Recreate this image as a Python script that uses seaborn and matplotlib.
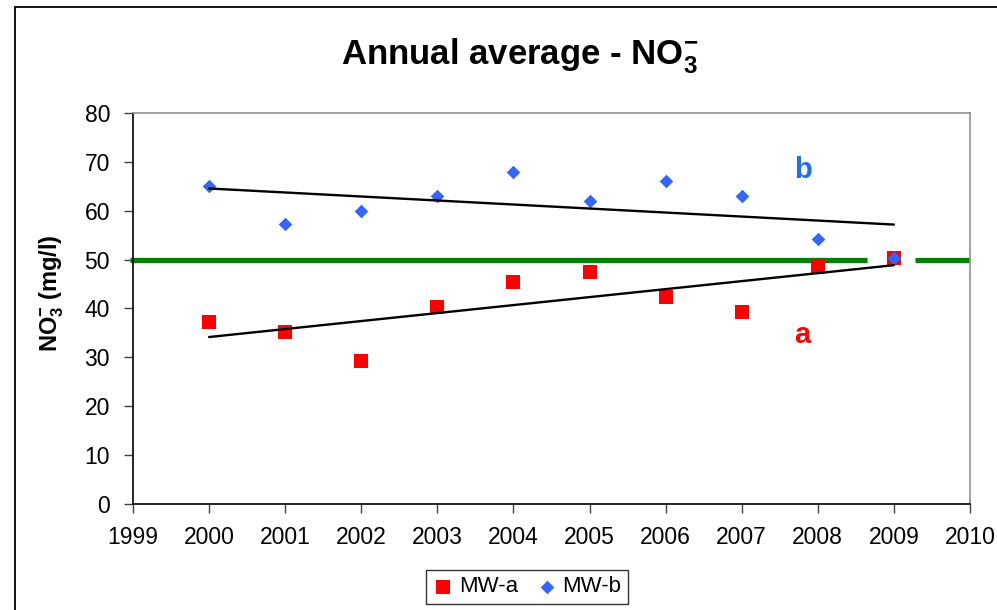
import numpy as np
import pandas as pd
import matplotlib
matplotlib.use("Agg")
import matplotlib.pyplot as plt
from matplotlib.patches import Rectangle
import seaborn as sns

# Annual average nitrate concentrations at two monitoring wells
years = [2000, 2001, 2002, 2003, 2004, 2005, 2006, 2007, 2008, 2009]
mw_a = [37.2, 35.2, 29.2, 40.3, 45.4, 47.4, 42.3, 39.3, 48.5, 50.3]
mw_b = [65.0, 57.3, 59.9, 63.0, 67.9, 62.0, 66.0, 63.0, 54.2, 50.3]
series_names = ["MW-a", "MW-b"]
limit_value = 50
x_ticks = list(range(1999, 2011))
y_ticks = list(range(0, 81, 10))

sns.set_theme(style="white")
plt.rcParams["font.family"] = ["Liberation Sans", "DejaVu Sans"]
plt.rcParams["mathtext.fontset"] = "custom"
plt.rcParams["mathtext.rm"] = "Liberation Sans"
plt.rcParams["mathtext.bf"] = "Liberation Sans:bold"
plt.rcParams["mathtext.default"] = "regular"
for key in ["text.color", "axes.labelcolor", "xtick.color", "ytick.color"]:
    plt.rcParams[key] = "black"

df = pd.DataFrame({
    "year": years * 2,
    "value": mw_a + mw_b,
    "well": [series_names[0]] * len(years) + [series_names[1]] * len(years),
})

fig = plt.figure(figsize=(9.97, 6.10), dpi=100)
ax = fig.add_axes([0.1334, 0.1738, 0.8395, 0.641])

# outer chart border
fig.patches.append(Rectangle((15 / 997, -0.1), 1.2, 1 - 7 / 610 + 0.1,
                             transform=fig.transFigure, fill=False,
                             edgecolor="black", linewidth=1.3, zorder=0))

# drinking-water limit, broken around the last sample
ax.plot([1998.96, 2008.65], [limit_value, limit_value], color="#008000",
        linewidth=3.8, solid_capstyle="butt", zorder=2, clip_on=False)
ax.plot([2009.28, 2010], [limit_value, limit_value], color="#008000",
        linewidth=3.8, solid_capstyle="butt", zorder=2)

palette = {"MW-a": "#FF0000", "MW-b": "#3366FF"}
markers = {"MW-a": "s", "MW-b": "D"}
sizes = {"MW-a": 115, "MW-b": 48}

for name in series_names:
    sub = df[df["well"] == name]
    sns.scatterplot(data=sub, x="year", y="value", color=palette[name],
                    marker=markers[name], s=sizes[name], linewidth=0,
                    ax=ax, label=name, zorder=3)

# linear trends
for name in series_names:
    sub = df[df["well"] == name]
    sns.regplot(data=sub, x="year", y="value", scatter=False, ci=None,
                truncate=True, color="black",
                line_kws={"linewidth": 1.7, "zorder": 4}, ax=ax)

ax.text(2007.8, 68.3, "b", color="#1E6EF0", fontsize=21, fontweight="bold",
        ha="center", va="center")
ax.text(2007.8, 34.5, "a", color="#FF0000", fontsize=21, fontweight="bold",
        ha="center", va="center")

ax.set_xlim(1999, 2010)
ax.set_ylim(0, 80)
ax.set_xticks(x_ticks)
ax.set_yticks(y_ticks)
ax.set_xticklabels([str(t) for t in x_ticks], fontsize=16.5)
ax.set_yticklabels([str(t) for t in y_ticks], fontsize=16.5)
ax.tick_params(axis="both", direction="out", length=6.5, width=1,
               color="#404040", labelcolor="black", bottom=True, left=True)
ax.tick_params(axis="x", pad=9)
ax.tick_params(axis="y", pad=10)
ax.set_xlabel("")
ax.set_ylabel(r"NO$_3^{-}$ (mg/l)", fontsize=17, fontweight="bold",
              color="black")
ax.yaxis.set_label_coords(-0.097, 0.54)
ax.yaxis.label.set_va("center")

for side in ["left", "bottom"]:
    ax.spines[side].set_color("black")
    ax.spines[side].set_linewidth(1.2)
for side in ["top", "right"]:
    ax.spines[side].set_color("#909090")
    ax.spines[side].set_linewidth(1.2)

fig.text(0.521, 1 - 65 / 610, r"Annual average - NO$_3^{-}$", fontsize=25,
         fontweight="bold", ha="center", va="baseline", color="black")

leg = ax.legend(loc="center", bbox_to_anchor=(527 / 997, 1 - 587 / 610),
                bbox_transform=fig.transFigure, ncol=2, fontsize=16,
                frameon=True, fancybox=False, handletextpad=0.2,
                columnspacing=0.8, borderpad=0.3, handlelength=1.0,
                borderaxespad=0)
leg.get_frame().set_edgecolor("black")
leg.get_frame().set_linewidth(1.0)
for t in leg.get_texts():
    t.set_color("black")

fig.savefig("out.png", dpi=100)
